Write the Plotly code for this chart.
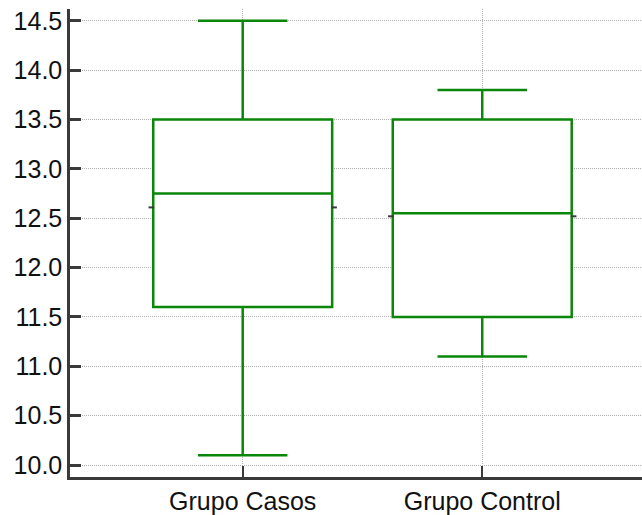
import plotly.graph_objects as go

# Summary statistics per group
groups = ["Grupo Casos", "Grupo Control"]
q1 = [11.6, 11.5]
median = [12.75, 12.55]
q3 = [13.5, 13.5]
lower = [10.1, 11.1]
upper = [14.5, 13.8]
means = [12.61, 12.52]

y_ticks = [10.0, 10.5, 11.0, 11.5, 12.0, 12.5, 13.0, 13.5, 14.0, 14.5]

pos = list(range(len(groups)))
box_w = 0.747
green = "#0a860a"
axis_col = "#3a3a3a"
grid_col = "#b0b0b0"

fig = go.Figure()
fig.add_trace(go.Box(
    x=pos, q1=q1, median=median, q3=q3,
    lowerfence=lower, upperfence=upper,
    width=box_w, whiskerwidth=0.5,
    fillcolor="white",
    line=dict(color=green, width=2.5),
    boxpoints=False, hoverinfo="skip", showlegend=False,
))

# Mean indicated by short dark ticks just outside each box edge
mx, my = [], []
for p, m in zip(pos, means):
    mx += [p - box_w / 2 - 0.008, p + box_w / 2 + 0.008]
    my += [m, m]
fig.add_trace(go.Scatter(
    x=mx, y=my, mode="markers",
    marker=dict(symbol="line-ew", size=4, line=dict(color=axis_col, width=2)),
    hoverinfo="skip", showlegend=False,
))

font = dict(family="Liberation Sans, Arial, sans-serif", size=25, color="#111111")

fig.update_layout(
    width=642, height=515,
    margin=dict(l=70, r=0, t=9, b=36),
    paper_bgcolor="white", plot_bgcolor="white",
    font=font,
    xaxis=dict(
        range=[-0.721, 1.667],
        tickmode="array", tickvals=pos, ticktext=groups,
        ticks="inside", ticklen=11, tickwidth=2, tickcolor=axis_col,
        showline=True, linecolor=axis_col, linewidth=2.5,
        showgrid=True, gridcolor=grid_col, gridwidth=1, griddash="1px,1px",
        zeroline=False, tickfont=font,
    ),
    yaxis=dict(
        range=[9.879, 14.62],
        tickmode="array", tickvals=y_ticks,
        ticktext=[f"{v:.1f}" for v in y_ticks],
        ticks="inside", ticklen=11, tickwidth=2.5, tickcolor=axis_col,
        showline=True, linecolor=axis_col, linewidth=2.5,
        showgrid=True, gridcolor=grid_col, gridwidth=1, griddash="1px,1px",
        zeroline=False, tickfont=font,
    ),
)

fig.write_html("out.html")
